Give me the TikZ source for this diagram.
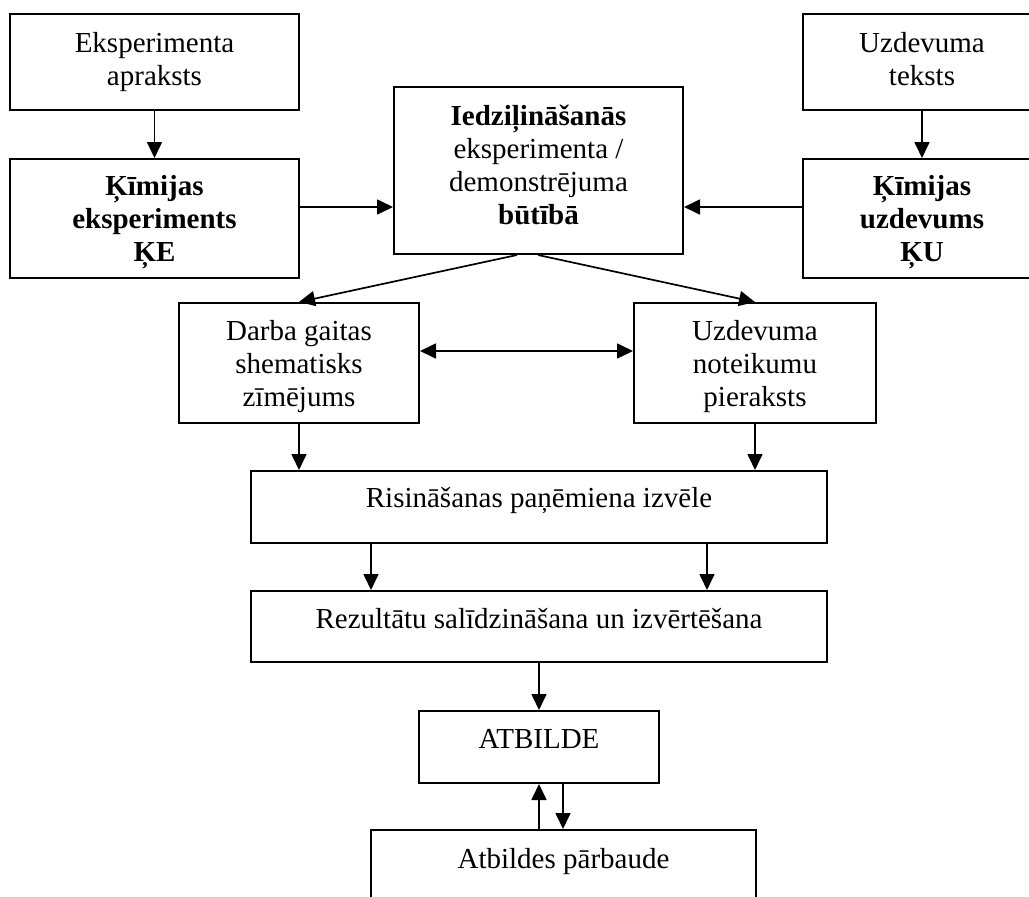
\documentclass[tikz,border=0pt]{standalone}
\usepackage{fontspec}
\setmainfont{Liberation Serif}
\usetikzlibrary{arrows.meta}
\begin{document}
\begin{tikzpicture}[x=1pt,y=-1pt,
  box/.style={draw, line width=2pt, rectangle, inner sep=0pt},
  lbl/.style={anchor=base, inner sep=0pt, font=\fontsize{29}{33}\selectfont},
  arr/.style={line width=1.7pt, -{Triangle[length=16pt,width=15pt]}},
  darr/.style={line width=1.7pt, {Triangle[length=16pt,width=15pt]}-{Triangle[length=16pt,width=15pt]}}]

\useasboundingbox (0,0) rectangle (1029,897);
\clip (0,0) rectangle (1029,897);

% boxes
\node[box, minimum width=289pt, minimum height=96pt]  (b1)  at (154.5,62)   {};
\node[box, minimum width=289pt, minimum height=119pt] (ke)  at (154.5,218.5) {};
\node[box, minimum width=238pt, minimum height=96pt]  (ut)  at (922,62)     {};
\node[box, minimum width=238pt, minimum height=119pt] (ku)  at (922,218.5)  {};
\node[box, minimum width=289pt, minimum height=167pt] (cen) at (538.5,170.5) {};
\node[box, minimum width=240pt, minimum height=120pt] (dg)  at (299,363)    {};
\node[box, minimum width=242pt, minimum height=120pt] (un)  at (755,363)    {};
\node[box, minimum width=576pt, minimum height=72pt]  (ris) at (539,507)    {};
\node[box, minimum width=576pt, minimum height=71pt]  (rez) at (539,626.5)  {};
\node[box, minimum width=240pt, minimum height=72pt]  (atb) at (539,747)    {};
\node[box, minimum width=385pt, minimum height=120pt] (pb)  at (563.5,890)  {};

% texts
\node[lbl] (b1t) at (154.5,52) {\begin{tabular}[t]{@{}c@{}}Eksperimenta\\apraksts\end{tabular}};
\node[lbl] (ket) at (154.5,195) {\begin{tabular}[t]{@{}c@{}}\textbf{Ķīmijas}\\\textbf{eksperiments}\\\textbf{ĶE}\end{tabular}};
\node[lbl] (utt) at (922,52) {\begin{tabular}[t]{@{}c@{}}Uzdevuma\\teksts\end{tabular}};
\node[lbl] (kut) at (922,195) {\begin{tabular}[t]{@{}c@{}}\textbf{Ķīmijas}\\\textbf{uzdevums}\\\textbf{ĶU}\end{tabular}};
\node[lbl] (cent) at (538.5,125) {\begin{tabular}[t]{@{}c@{}}\textbf{Iedziļināšanās}\\eksperimenta /\\demonstrējuma\\\textbf{būtībā}\end{tabular}};
\node[lbl] (dgt) at (299,340) {\begin{tabular}[t]{@{}c@{}}Darba gaitas\\shematisks\\zīmējums\end{tabular}};
\node[lbl] (unt) at (755,340) {\begin{tabular}[t]{@{}c@{}}Uzdevuma\\noteikumu\\pieraksts\end{tabular}};
\node[lbl] (rist) at (539,507) {Risināšanas paņēmiena izvēle};
\node[lbl] (rezt) at (539,628) {Rezultātu salīdzināšana un izvērtēšana};
\node[lbl] (atbt) at (539,748) {ATBILDE};
\node[lbl] (pbt) at (563.5,868) {Atbildes pārbaude};

% helper lines for connector positions
\coordinate (h1) at (0,207);
\coordinate (h2) at (0,351);
\coordinate (d1) at (517,0);
\coordinate (d2) at (538,0);
\coordinate (v1) at (371,0);
\coordinate (v2) at (707,0);
\coordinate (v3) at (539,0);
\coordinate (v4) at (563,0);

% connectors
\draw[arr] (b1.south) -- (ke.north);
\draw[arr] (ut.south) -- (ku.north);
\draw[arr] (ke.east |- h1) -- (cen.west |- h1);
\draw[arr] (ku.west |- h1) -- (cen.east |- h1);
\draw[arr] (cen.south -| d1) -- (dg.north);
\draw[arr] (cen.south -| d2) -- (un.north);
\draw[darr] (dg.east |- h2) -- (un.west |- h2);
\draw[arr] (dg.south) -- (dg.south |- ris.north);
\draw[arr] (un.south) -- (un.south |- ris.north);
\draw[arr] (ris.south -| v1) -- (rez.north -| v1);
\draw[arr] (ris.south -| v2) -- (rez.north -| v2);
\draw[arr] (rez.south) -- (atb.north);
\draw[arr] (pb.north -| v3) -- (atb.south -| v3);
\draw[arr] (atb.south -| v4) -- (pb.north -| v4);
\end{tikzpicture}
\end{document}
